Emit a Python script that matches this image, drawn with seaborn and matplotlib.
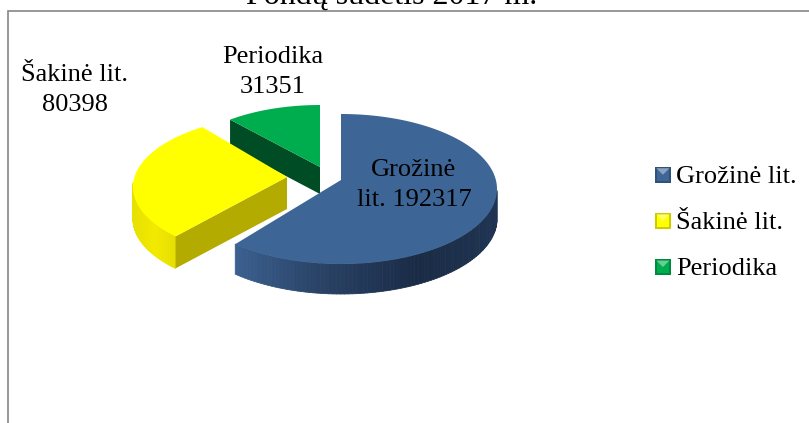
import numpy as np
import matplotlib
matplotlib.use("Agg")
import matplotlib.pyplot as plt
import seaborn as sns
from matplotlib.collections import PolyCollection
from matplotlib.legend_handler import HandlerBase
from matplotlib.patches import Patch, Polygon

title = "Fondų sudėtis 2017 m."
categories = ["Grožinė lit.", "Šakinė lit.", "Periodika"]
values = [192317, 80398, 31351]
label_texts = ["Grožinė\nlit. 192317", "Šakinė lit.\n80398", "Periodika\n31351"]
colors = ["#3D6696", "#FFFF00", "#00AD4E"]
cut_colors = ["#1F3553", "#B3AB00", "#004D25"]

sns.set_theme(style="white")
plt.rcParams["font.family"] = ["Liberation Serif", "DejaVu Serif"]

fig = plt.figure(figsize=(8.09, 4.23), dpi=100)
ax = fig.add_axes([0, 0, 1, 1])
ax.set_xlim(0, 809)
ax.set_ylim(423, 0)
ax.axis("off")

# geometry: ellipse centre, radii, apex, depth, rotation
geom = [
    dict(cx=341, cy=189, rx=156, ry=75, ax=341, ay=180, d=30, rot=0),
    dict(cx=289, cy=187, rx=156, ry=72, ax=287, ay=177, d=32, rot=4),
    dict(cx=320, cy=175, rx=147, ry=70, ax=320, ay=167, d=27, rot=0),
]
total = sum(values)
edges = np.concatenate([[0], np.cumsum(values)]) / total * 360


def warp(t):
    return t - 6 * (1 - np.cos(np.radians(t))) / 2


def rim(g, t):
    p = np.radians(warp(np.asarray(t, float)) + g["rot"])
    return g["cx"] + g["rx"] * np.sin(p), g["cy"] - g["ry"] * np.cos(p)


def lerp_color(stops, f):
    xs = [s[0] for s in stops]
    rgb = np.array([matplotlib.colors.to_rgb(s[1]) for s in stops])
    return [np.interp(f, xs, rgb[:, i]) for i in range(3)]


wall_stops = [
    [(0, "#3B6090"), (0.3, "#2A4468"), (0.7, "#1A2B45"), (1, "#1F3452")],
    [(0, "#E8E000"), (0.5, "#F2EA00"), (1, "#E6DE00")],
    [(0, "#006030"), (1, "#006030")],
]

for i in [2, 1, 0]:
    g = geom[i]
    t = np.linspace(edges[i], edges[i + 1], 160)
    x, y = rim(g, t)
    vis = (warp(t) >= 90) & (warp(t) <= 270)
    idx = np.where(vis)[0]
    if len(idx) > 1:
        quads, cols = [], []
        x0, x1 = x[idx].min(), x[idx].max()
        for a, b in zip(idx[:-1], idx[1:]):
            quads.append([(x[a], y[a]), (x[b], y[b]), (x[b], y[b] + g["d"]), (x[a], y[a] + g["d"])])
            cols.append(lerp_color(wall_stops[i], ((x[a] + x[b]) / 2 - x0) / (x1 - x0)))
        ax.add_collection(PolyCollection(quads, facecolors=cols, edgecolors=cols, linewidths=0.6))
    if i > 0:
        xs, ys = x[0], y[0]
        ax.add_patch(Polygon([(g["ax"], g["ay"]), (xs, ys), (xs, ys + g["d"]), (g["ax"], g["ay"] + g["d"])],
                             closed=True, facecolor=cut_colors[i], edgecolor="none"))
    ax.fill(np.r_[g["ax"], x], np.r_[g["ay"], y], facecolor=colors[i], edgecolor="none")

label_pos = [(414, 185), (75, 90), (273, 72)]
for (lx, ly), s in zip(label_pos, label_texts):
    ax.text(lx, ly, s, ha="center", va="center", fontsize=19, color="black", linespacing=1.42)

ax.text(392, 3.5, title, ha="center", va="baseline", fontsize=23, color="black")
ax.plot([8, 8, 809], [423, 11, 11], color="#868686", lw=1.2, solid_joinstyle="miter", clip_on=False)


class BevelKey(HandlerBase):
    def create_artists(self, legend, orig, xd, yd, w, h, fs, trans):
        c = np.array(matplotlib.colors.to_rgb(orig.get_facecolor()))
        s = min(w, h)
        base = Polygon([(0, 0), (s, 0), (s, s), (0, s)], facecolor=c * 0.8, edgecolor="none", transform=trans)
        inner = Polygon([(1.5, 1.5), (s - 1.5, 1.5), (s - 1.5, s - 1.5), (1.5, s - 1.5)], facecolor=c, edgecolor="none", transform=trans)
        top = Polygon([(1, s - 1), (s - 1, s - 1), (s / 2, s / 2)], facecolor=np.minimum(c * 0.6 + 0.4, 1),
                      edgecolor="none", transform=trans)
        return [base, inner, top]


handles = [Patch(facecolor=c, label=n) for c, n in zip(colors, categories)]
ax.legend(handles=handles, handler_map={Patch: BevelKey()}, loc="center left",
          bbox_to_anchor=(655 / 809, 1 - 222.5 / 423), frameon=False, fontsize=19,
          handlelength=0.6, handleheight=0.6, handletextpad=0.2, labelspacing=0.89, borderpad=0, borderaxespad=0,
          labelcolor="black")

fig.savefig("out.png", dpi=100, facecolor="white")
